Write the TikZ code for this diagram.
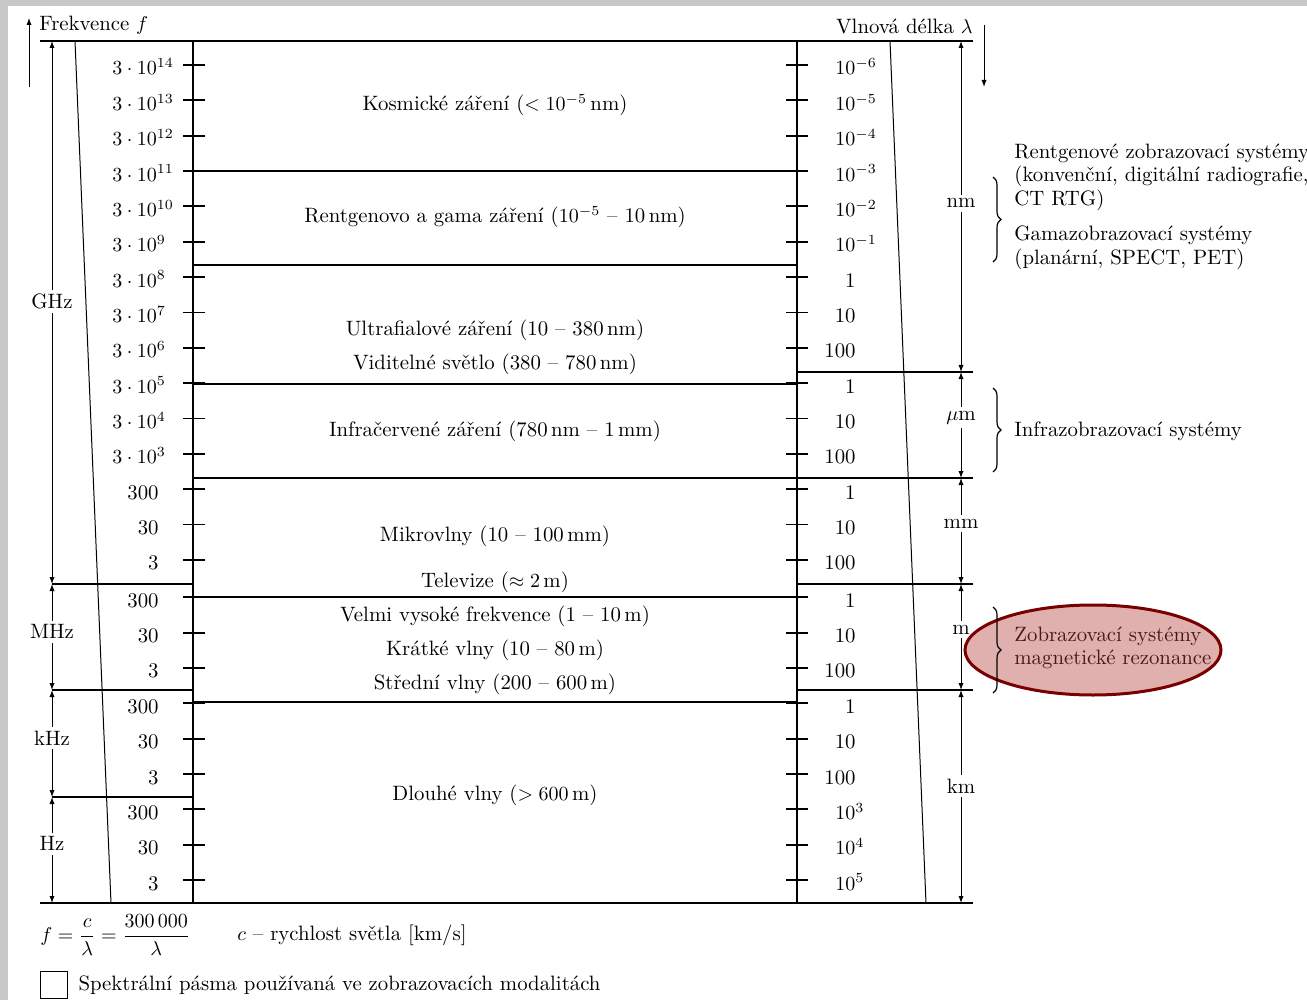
\documentclass[tikz,border=0pt]{standalone}
\usepackage{amsmath,amssymb}
\usepackage{xcolor}
\usepackage{tikz}
\usetikzlibrary{
  arrows.meta,
  positioning,
  decorations.pathreplacing,
  shapes.geometric
}
\definecolor{mrfill}{RGB}{224,176,174}
\definecolor{mrline}{RGB}{120,0,0}
\definecolor{mrtextc}{RGB}{70,25,25}
\definecolor{slidegray}{RGB}{200,200,200}

\begin{document}
\begin{tikzpicture}[x=0.5pt,y=-0.5pt,
  font=\fontsize{10.4pt}{11.8pt}\selectfont,
  frame/.style={line width=0.9pt},
  slant/.style={line width=0.5pt},
  dim/.style={<->, >={Latex[length=3.5pt,width=2.6pt]}, line width=0.5pt},
  ptr/.style={->, >={Latex[length=3.5pt,width=2.6pt]}, line width=0.5pt},
  unit/.style={fill=white, inner sep=2pt},
  flab/.style={anchor=base west, inner sep=0pt},
  nlab/.style={anchor=base east, inner sep=0pt},
  brc/.style={decorate, decoration={brace, amplitude=4pt}, line width=0.6pt},
  ann/.style={anchor=west, align=left, inner sep=0pt},
  mrell/.style={ellipse, draw=mrline, line width=1.5pt, fill=mrfill,
    minimum width=128pt, minimum height=45pt}
]
  \useasboundingbox (0,0) rectangle (1307,1000);
  % slide background
  \fill[slidegray] (0,0) rectangle (8,1000);
  \fill[slidegray] (0,0) rectangle (1307,6);

  % headers
  \node[anchor=west, inner sep=0pt] (fhead) at (39,25) {Frekvence $f$};
  \node[anchor=east, inner sep=0pt] (whead) at (973,26) {Vlnová délka $\lambda$};
  \coordinate (fa0) at (29,87);
  \coordinate (fa1) at (29,18);
  \coordinate (wa0) at (984,25);
  \coordinate (wa1) at (984,87);
  \draw[ptr] (fa0) -- (fa1);
  \draw[ptr] (wa0) -- (wa1);

  % frame
  \draw[frame] (40,41) -- (973,41);
  \draw[frame] (40,903) -- (973,903);
  \draw[frame] (193,41) -- (193,903);
  \draw[frame] (797,41) -- (797,903);
  \draw[slant] (75,41) -- (111,903);
  \draw[slant] (890,41) -- (926,903);

  % band borders
  \foreach \xa/\xb/\y in {193/797/171, 193/797/265, 193/797/384, 797/973/372,
      193/973/478, 52/193/584, 797/973/584, 193/797/597, 52/193/690,
      797/973/690, 193/797/702, 52/193/797}
    \draw[frame] (\xa,\y) -- (\xb,\y);

  % ticks
  \foreach \i in {0,...,23}{
    \pgfmathsetmacro\ty{65+35.35*\i+(\i>14)*2}
    \draw[frame] (183,\ty) -- (205,\ty);
    \draw[frame] (786,\ty) -- (808,\ty);
  }

  % frequency scale
  \foreach \e [count=\i from 0] in {14,13,...,3}
    \node[flab] (f\i) at (112,{65+35.35*\i+10}) {$3\cdot10^{\e}$};
  \foreach \v [count=\i from 12] in {300,30,3,300,30,3,300,30,3,300,30,3}
    \node[nlab] (f\i) at (159,{65+35.35*\i+(\i>14)*2+10}) {\v};

  % wavelength scale
  \foreach \e [count=\i from 0] in {-6,-5,...,-1}
    \node[flab] (w\i) at (835,{65+35.35*\i+10}) {$10^{\e}$};
  \foreach \v [count=\i from 6] in {1,10,100,1,10,100,1,10,100,1,10,100,1,10,100}
    \node[nlab] (w\i) at (856,{65+35.35*\i+(\i>14)*2+10}) {\v};
  \foreach \e [count=\i from 21] in {3,4,5}
    \node[flab] (w\i) at (835,{65+35.35*\i+2+10}) {$10^{\e}$};

  % bands
  \foreach \t/\y [count=\i] in {
      {Kosmické záření ($<10^{-5}$\,nm)}/105,
      {Rentgenovo a gama záření ($10^{-5}$ -- 10\,nm)}/217,
      {Ultrafialové záření (10 -- 380\,nm)}/330,
      {Viditelné světlo (380 -- 780\,nm)}/364,
      {Infračervené záření (780\,nm -- 1\,mm)}/431,
      {Mikrovlny (10 -- 100\,mm)}/536,
      {Televize ($\approx 2$\,m)}/582,
      {Velmi vysoké frekvence (1 -- 10\,m)}/616,
      {Krátké vlny (10 -- 80\,m)}/650,
      {Střední vlny (200 -- 600\,m)}/684,
      {Dlouhé vlny ($>600$\,m)}/795}
    \node (band\i) at (495,\y) {\t};

  % frequency units
  \coordinate (fx0) at (52,41);
  \coordinate (fx1) at (52,584);
  \coordinate (fx2) at (52,690);
  \coordinate (fx3) at (52,797);
  \coordinate (fx4) at (52,903);
  \draw[dim] (fx0) -- node[unit, pos=.48] {GHz} (fx1);
  \draw[dim] (fx1) -- node[unit, pos=.45] {MHz} (fx2);
  \draw[dim] (fx2) -- node[unit, pos=.45] {kHz} (fx3);
  \draw[dim] (fx3) -- node[unit, pos=.44] {Hz} (fx4);

  % wavelength units
  \coordinate (wx0) at (961,41);
  \coordinate (wx1) at (961,372);
  \coordinate (wx2) at (961,478);
  \coordinate (wx3) at (961,584);
  \coordinate (wx4) at (961,690);
  \coordinate (wx5) at (961,903);
  \draw[dim] (wx0) -- node[unit, pos=.49] {nm} (wx1);
  \draw[dim] (wx1) -- node[unit, pos=.43] {$\mu$m} (wx2);
  \draw[dim] (wx2) -- node[unit, pos=.43] {mm} (wx3);
  \draw[dim] (wx3) -- node[unit, pos=.43] {m} (wx4);
  \draw[dim] (wx4) -- node[unit, pos=.45] {km} (wx5);

  % highlighted modality
  \node[mrell] (mr) at (1093,650) {};

  % braces
  \coordinate (b1a) at (993,177);
  \coordinate (b1b) at (993,262);
  \coordinate (b2a) at (993,388);
  \coordinate (b2b) at (993,472);
  \coordinate (b3a) at (993,607);
  \coordinate (b3b) at (993,693);
  \draw[brc] (b1a) -- (b1b);
  \draw[brc] (b2a) -- (b2b);
  \draw[brc] (b3a) -- (b3b);

  % modalities
  \node[ann] (xray) at (1014,177)
    {Rentgenové zobrazovací systémy\\(konvenční, digitální radiografie,\\CT RTG)};
  \node[ann] (gama) at (1014,248)
    {Gamazobrazovací systémy\\(planární, SPECT, PET)};
  \node[ann] (infra) at (1014,431) {Infrazobrazovací systémy};
  \node[ann, text=mrtextc] (mrtext) at (1014,648)
    {Zobrazovací systémy\\magnetické rezonance};

  % formula and legend
  \node[anchor=west, inner sep=0pt] (formula) at (40,935)
    {$f=\dfrac{c}{\lambda}=\dfrac{300\,000}{\lambda}$};
  \node[anchor=west, inner sep=0pt] (clight) at (237,935)
    {$c$ -- rychlost světla [km/s]};
  \node[draw, line width=0.6pt, minimum size=13.5pt, inner sep=0pt] (legbox) at (54,985) {};
  \node[inner sep=0pt, right=5pt of legbox] (legtext)
    {Spektrální pásma používaná ve zobrazovacích modalitách};
\end{tikzpicture}
\end{document}
